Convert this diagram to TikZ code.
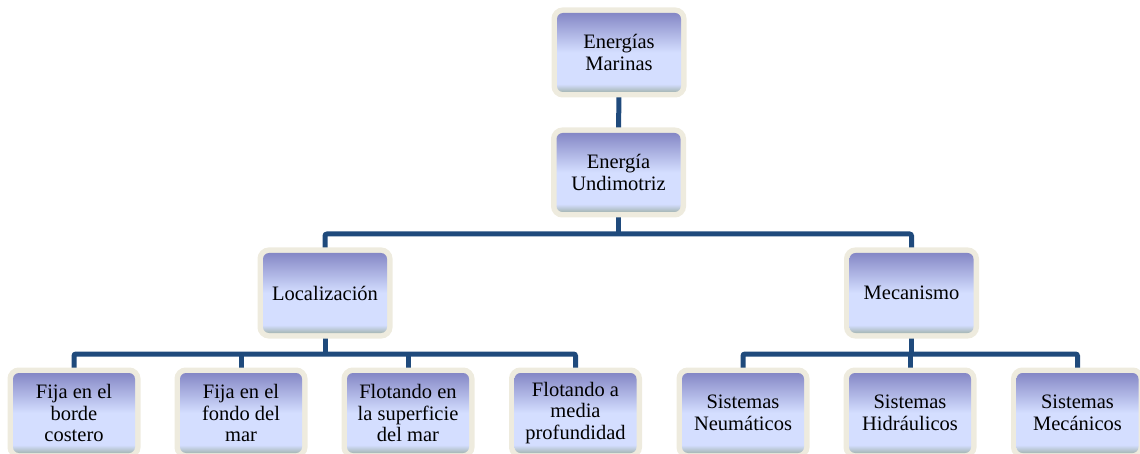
\documentclass[tikz,border=0pt]{standalone}
\usepackage{fontspec}
\setmainfont{Liberation Serif}
\usetikzlibrary{backgrounds}
\definecolor{shtop}{HTML}{8588C6}
\definecolor{shlight}{HTML}{D4DEFF}
\definecolor{shstrip}{HTML}{A5B6B3}
\definecolor{framec}{HTML}{EEEBDE}
\definecolor{connc}{HTML}{1F4A7C}
\pgfdeclareverticalshading{boxshade}{100bp}{color(0bp)=(shstrip); color(25bp)=(shstrip); color(30bp)=(shlight); color(50bp)=(shlight); color(75bp)=(shtop); color(100bp)=(shtop)}
\newcommand{\boxfont}{\fontsize{20.5}{21.5}\selectfont}
\begin{document}
\begin{tikzpicture}[x=1pt,y=-1pt,
  box/.style={rectangle, rounded corners=6pt, shade, shading=boxshade,
    minimum width=124pt, minimum height=79pt, inner sep=0pt, align=center,
    font=\boxfont, text=black, preaction={draw=framec, line width=11pt}},
  leaf/.style={box, minimum width=122pt, minimum height=80pt},
  conn/.style={draw=connc, line width=5pt, rounded corners=2pt}]
\useasboundingbox (0,0) rectangle (1140,454);
\clip (0,0) rectangle (1140,454);
\node[box] (mar) at (619,52.5) {Energías\\Marinas};
\node[box] (und) at (618.5,172.5) {Energía\\Undimotriz};
\node[box, minimum height=80pt] (loc) at (325,293) {Localización};
\node[box, minimum height=80pt] (mec) at (911.5,293) {Mecanismo};
\node[leaf] (f1) at (74,413) {Fija en el\\borde\\costero};
\node[leaf] (f2) at (241,413) {Fija en el\\fondo del\\mar};
\node[leaf] (f3) at (408,413) {Flotando en\\la superficie\\del mar};
\node[leaf] (f4) at (575.5,413) {Flotando a\\media\\profundidad};
\node[leaf] (s1) at (743,413) {Sistemas\\Neumáticos};
\node[leaf] (s2) at (910,413) {Sistemas\\Hidráulicos};
\node[leaf] (s3) at (1077.5,413) {Sistemas\\Mecánicos};
\coordinate (bar0) at (618.5,234);
\coordinate (bar1) at (325,354);
\coordinate (bar2) at (911.5,354);
\begin{pgfonlayer}{background}
\draw[conn] (mar.south) -- (und.north);
\draw[conn] (und.south) -- (bar0);
\draw[conn] (loc.north) -- (loc.north |- bar0) -- (mec.north |- bar0) -- (mec.north);
\draw[conn] (loc.south) -- (bar1);
\draw[conn] (f1.north) -- (f1.north |- bar1) -- (f4.north |- bar1) -- (f4.north);
\draw[conn] (f2.north) -- (f2.north |- bar1);
\draw[conn] (f3.north) -- (f3.north |- bar1);
\draw[conn] (mec.south) -- (bar2);
\draw[conn] (s1.north) -- (s1.north |- bar2) -- (s3.north |- bar2) -- (s3.north);
\draw[conn] (s2.north) -- (s2.north |- bar2);
\end{pgfonlayer}
\end{tikzpicture}
\end{document}
